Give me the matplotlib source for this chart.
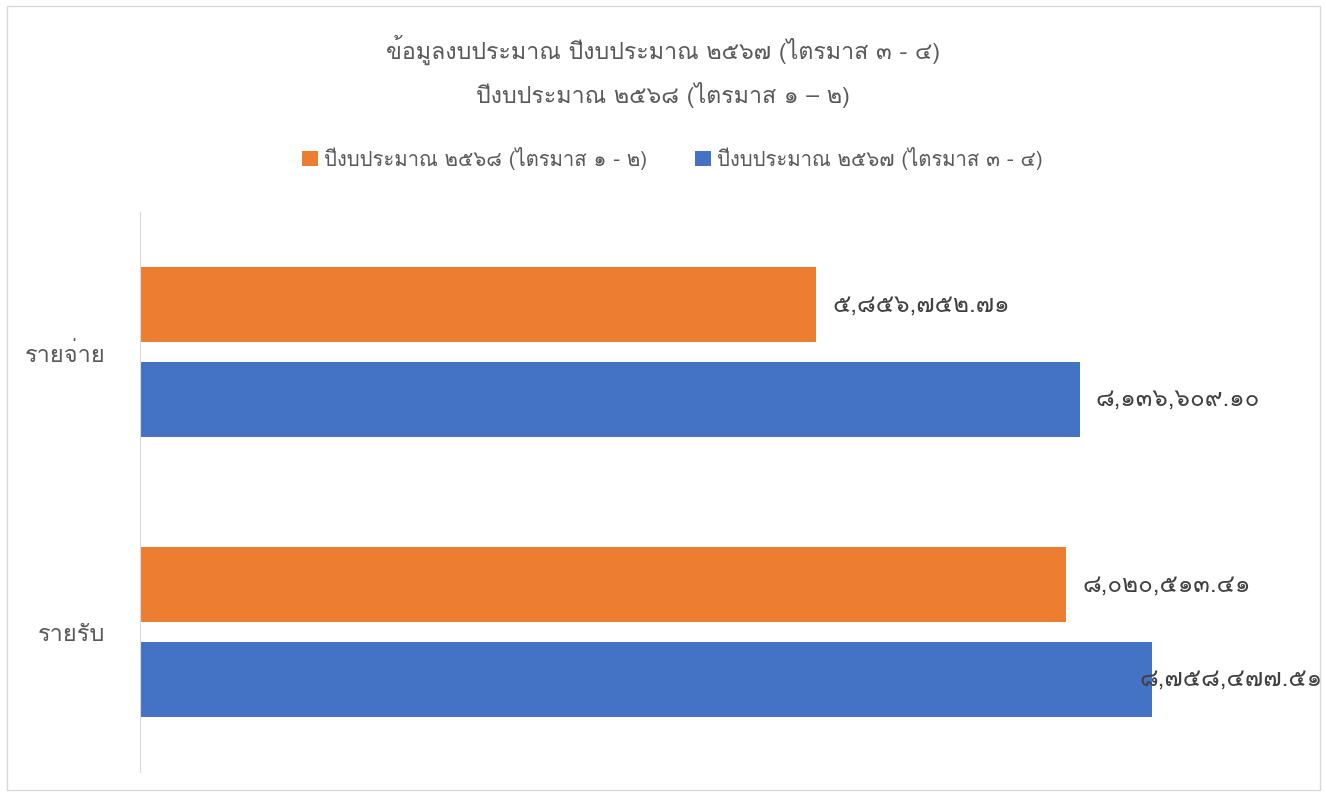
import matplotlib
matplotlib.use("Agg")
import matplotlib.pyplot as plt
from matplotlib import font_manager
from matplotlib.ft2font import FT2Font
from matplotlib.patches import Rectangle

# data
categories = ["รายรับ", "รายจ่าย"]
series_names = ["ปีงบประมาณ ๒๕๖๘ (ไตรมาส ๑ - ๒)", "ปีงบประมาณ ๒๕๖๗ (ไตรมาส ๓ - ๔)"]
values_2568 = [8020513.41, 5856752.71]
values_2567 = [8758477.51, 8136609.10]
title_lines = ["ข้อมูลงบประมาณ ปีงบประมาณ ๒๕๖๗ (ไตรมาส ๓ - ๔)", "ปีงบประมาณ ๒๕๖๘ (ไตรมาส ๑ – ๒)"]

ORANGE = "#ED7D31"
BLUE = "#4472C4"
GREY = "#595959"


def find_thai_font():
    for f in font_manager.fontManager.ttflist:
        if f.weight not in (400, "normal", "regular"):
            continue
        try:
            cmap = FT2Font(f.fname).get_charmap()
        except Exception:
            continue
        if 0x0E01 in cmap and 0x0E51 in cmap and 0x0E48 in cmap:
            return f.name
    return None


thai = find_thai_font()
fams = ([thai] if thai else []) + ["DejaVu Sans"]
plt.rcParams["font.family"] = fams

THAI_DIGITS = str.maketrans("0123456789", "๐๑๒๓๔๕๖๗๘๙")


def thai_num(v):
    return f"{v:,.2f}".translate(THAI_DIGITS)


W, H = 1326, 796
fig = plt.figure(figsize=(W / 100, H / 100), dpi=100)
fig.patches.append(Rectangle((7 / W, 6 / H), 1313 / W, 784 / H, transform=fig.transFigure,
                             fill=False, edgecolor="#d9d9d9", linewidth=1))

ax = fig.add_axes([140 / W, 24 / H, 1155 / W, 560 / H])
pos = list(range(len(categories)))
h = 0.268
off = 0.168
ax.barh([p + off for p in pos], values_2568, height=h, color=ORANGE, label=series_names[0])
ax.barh([p - off for p in pos], values_2567, height=h, color=BLUE, label=series_names[1])

for vals, sign in [(values_2568, 1), (values_2567, -1)]:
    for p, v in zip(pos, vals):
        dx = -12 if v > 8.5e6 else 16
        ax.annotate(thai_num(v), (v, p + sign * off), xytext=(dx, 0), textcoords="offset pixels",
                    ha="left", va="center", fontsize=17.5, color="#404040")

ax.set_xlim(0, 1e7)
ax.set_ylim(-0.5, 1.5)
ax.set_yticks(pos)
ax.set_yticklabels(categories, fontsize=17, color=GREY)
ax.tick_params(axis="y", length=0, pad=25)
ax.set_xticks([])
for s in ["top", "right", "bottom"]:
    ax.spines[s].set_visible(False)
ax.spines["left"].set_color("#d9d9d9")

fig.text(0.5, 1 - 50 / H, title_lines[0], ha="center", va="center", fontsize=16.7, color=GREY)
fig.text(0.5, 1 - 95 / H, title_lines[1], ha="center", va="center", fontsize=16.7, color=GREY)

fig.legend(loc="center", bbox_to_anchor=(0.507, 1 - 158 / H), ncol=2, frameon=False,
           fontsize=14.6, labelcolor=GREY, handlelength=0.75, handleheight=0.75,
           handletextpad=0.3, columnspacing=2.4)

fig.savefig("out.png", dpi=100, facecolor="white")
